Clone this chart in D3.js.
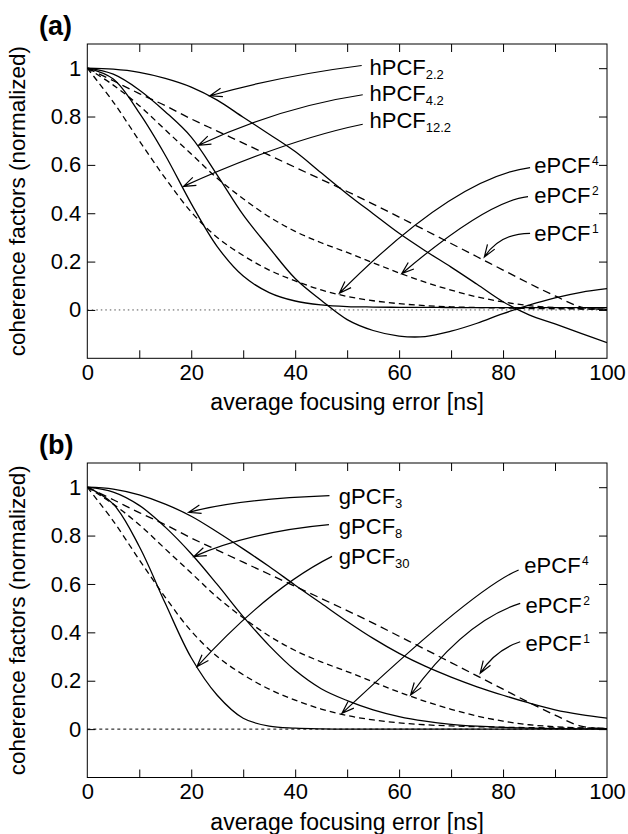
<!DOCTYPE html>
<html lang="en">
<head>
<meta charset="UTF-8">
<title>Coherence factors vs focusing error</title>
<style>
  body { margin: 0; background: #fff; }
  svg { font-family: "Liberation Sans", Arial, Helvetica, sans-serif; }
  .axis .domain { display: none; }
  .axis line { stroke: #000; }
  .axis text { font-size: 22px; fill: #000; }
</style>
</head>
<body>
<svg width="628" height="834"></svg>
<script src="https://d3js.org/d3.v7.min.js"></script>
<script>
// average focusing error [ns]
var ns = [0, 5, 10, 15, 20, 25, 30, 35, 40, 45, 50, 55, 60, 65, 70, 75, 80, 85, 90, 95, 100];

// panel (a) solid curves
var hPCF22  = [1, 0.996, 0.983, 0.958, 0.922, 0.868, 0.797, 0.727, 0.655, 0.567, 0.48, 0.398, 0.317, 0.245, 0.177, 0.106, 0.034, -0.02, -0.058, -0.097, -0.135];
var hPCF42  = [1, 0.975, 0.91, 0.82, 0.715, 0.558, 0.393, 0.258, 0.13, 0.04, -0.04, -0.085, -0.108, -0.11, -0.088, -0.055, -0.015, 0.02, 0.05, 0.073, 0.088];
var hPCF122 = [1, 0.955, 0.815, 0.64, 0.44, 0.262, 0.14, 0.072, 0.037, 0.021, 0.014, 0.012, 0.011, 0.011, 0.01, 0.01, 0.01, 0.01, 0.01, 0.01, 0.01];

// panel (b) solid curves
var gPCF3  = [1, 0.992, 0.968, 0.93, 0.88, 0.815, 0.745, 0.672, 0.595, 0.52, 0.445, 0.375, 0.313, 0.26, 0.215, 0.175, 0.14, 0.108, 0.08, 0.06, 0.045];
var gPCF8  = [1, 0.98, 0.925, 0.835, 0.725, 0.598, 0.465, 0.345, 0.243, 0.167, 0.118, 0.08, 0.052, 0.033, 0.02, 0.012, 0.007, 0.004, 0.002, 0.001, 0];
var gPCF30 = [1, 0.93, 0.755, 0.52, 0.295, 0.14, 0.045, 0.012, 0.004, 0.001, 0, 0, 0, 0, 0, 0, 0, 0, 0, 0, 0];

// dashed curves, same in both panels
var ePCF1 = [1, 0.948, 0.895, 0.845, 0.79, 0.74, 0.69, 0.64, 0.59, 0.54, 0.49, 0.438, 0.384, 0.33, 0.275, 0.22, 0.165, 0.11, 0.058, 0.012, 0.002];
var ePCF2 = [1, 0.93, 0.845, 0.745, 0.645, 0.545, 0.46, 0.385, 0.325, 0.278, 0.238, 0.195, 0.153, 0.115, 0.082, 0.054, 0.033, 0.018, 0.01, 0.005, 0.003];
var ePCF4 = [1, 0.86, 0.70, 0.545, 0.405, 0.30, 0.225, 0.165, 0.12, 0.083, 0.056, 0.038, 0.026, 0.018, 0.013, 0.01, 0.008, 0.006, 0.005, 0.004, 0.003];

var xLabels = [0, 20, 40, 60, 80, 100];
var yLabels = [0, 0.2, 0.4, 0.6, 0.8, 1];

// labels and arrows, in data units: text spot, leader start, bend, arrow tip
var notesA = [
  {name: "hPCF", sub: "2.2",  at: [54.3, 0.972], from: [52.8, 1.011], bend: [37.1, 0.968], tip: [23.6, 0.886]},
  {name: "hPCF", sub: "4.2",  at: [54.3, 0.865], from: [53.0, 0.89],  bend: [37.1, 0.839], tip: [21.4, 0.681]},
  {name: "hPCF", sub: "12.2", at: [54.3, 0.754], from: [53.0, 0.768], bend: [38.0, 0.701], tip: [18.5, 0.511]},
  {name: "ePCF", sup: "4", at: [86.0, 0.568], from: [85.2, 0.589], bend: [70.6, 0.547], tip: [48.5, 0.069]},
  {name: "ePCF", sup: "2", at: [86.0, 0.443], from: [84.8, 0.469], bend: [77.0, 0.451], tip: [60.5, 0.15]},
  {name: "ePCF", sup: "1", at: [86.0, 0.287], from: [85.2, 0.317], bend: [79.4, 0.317], tip: [76.4, 0.219]}
];
var notesB = [
  {name: "gPCF", sub: "3",  at: [48.4, 0.930], from: [46.6, 0.965], bend: [29.1, 0.951], tip: [19.5, 0.896]},
  {name: "gPCF", sub: "8",  at: [48.4, 0.807], from: [46.5, 0.845], bend: [31.5, 0.816], tip: [20.5, 0.713]},
  {name: "gPCF", sub: "30", at: [48.4, 0.683], from: [47.1, 0.714], bend: [34.8, 0.581], tip: [21.1, 0.258]},
  {name: "ePCF", sup: "4", at: [84.1, 0.645], from: [83.0, 0.658], bend: [74.7, 0.584], tip: [49.0, 0.065]},
  {name: "ePCF", sup: "2", at: [84.3, 0.482], from: [83.3, 0.52],  bend: [72.5, 0.446], tip: [62.2, 0.141]},
  {name: "ePCF", sup: "1", at: [84.3, 0.324], from: [83.3, 0.361], bend: [78.5, 0.327], tip: [75.6, 0.231]}
];

var panels = [
  {tag: "(a)", top: 44, bottom: 358.3, solid: [hPCF22, hPCF42, hPCF122], notes: notesA, zeroDash: "1.5,3", zeroColor: "#555"},
  {tag: "(b)", top: 463, bottom: 777.5, solid: [gPCF3, gPCF8, gPCF30], notes: notesB, zeroDash: "3,3", zeroColor: "#000"}
];

var svg = d3.select("svg"),
    left = 87.3, right = 607;

var x = d3.scaleLinear().domain([0, 100]).range([left, right]);

panels.forEach(function(p, pi) {
    var y = d3.scaleLinear().domain([-0.2, 1.1]).range([p.bottom, p.top]);
    var g = svg.append("g");

    g.append("clipPath").attr("id", "clip" + pi)
      .append("rect")
        .attr("x", left).attr("y", p.top)
        .attr("width", right - left).attr("height", p.bottom - p.top);

    var line = d3.line()
        .x(function(d, i) { return x(ns[i]); })
        .y(function(d) { return y(d); })
        .curve(d3.curveCatmullRom);

    var plot = g.append("g").attr("clip-path", "url(#clip" + pi + ")");

    // zero reference line
    plot.append("line")
        .attr("x1", x(0)).attr("x2", x(100))
        .attr("y1", y(0)).attr("y2", y(0))
        .attr("stroke", p.zeroColor)
        .attr("stroke-width", 1)
        .attr("stroke-dasharray", p.zeroDash);

    [ePCF1, ePCF2, ePCF4].forEach(function(s, i) {
        plot.append("path")
            .attr("d", line(s))
            .attr("fill", "none")
            .attr("stroke", "#000")
            .attr("stroke-width", 1.3)
            .attr("stroke-dasharray", i == 0 ? "8,5" : "6,4");
    });

    p.solid.forEach(function(s) {
        plot.append("path")
            .attr("d", line(s))
            .attr("fill", "none")
            .attr("stroke", "#000")
            .attr("stroke-width", 1.3);
    });

    // box and inward ticks
    g.append("rect")
        .attr("x", left).attr("y", p.top)
        .attr("width", right - left).attr("height", p.bottom - p.top)
        .attr("fill", "none").attr("stroke", "#000").attr("stroke-width", 1);

    var xt = [10, 20, 30, 40, 50, 60, 70, 80, 90];
    g.append("g").attr("class", "axis")
        .attr("transform", "translate(0," + p.bottom + ")")
        .call(d3.axisBottom(x).tickValues(xt).tickSize(-8).tickFormat(""));
    g.append("g").attr("class", "axis")
        .attr("transform", "translate(0," + p.top + ")")
        .call(d3.axisTop(x).tickValues(xt).tickSize(-8).tickFormat(""));
    g.append("g").attr("class", "axis")
        .attr("transform", "translate(0," + p.bottom + ")")
        .call(d3.axisBottom(x).tickValues(xLabels).tickSize(0).tickPadding(6).tickFormat(d3.format("d")));

    g.append("g").attr("class", "axis")
        .attr("transform", "translate(" + left + ",0)")
        .call(d3.axisLeft(y).tickValues(yLabels).tickSize(-8).tickPadding(6)
            .tickFormat(function(d) { return String(Math.round(d * 10) / 10); }));
    g.append("g").attr("class", "axis")
        .attr("transform", "translate(" + right + ",0)")
        .call(d3.axisRight(y).tickValues(yLabels).tickSize(-8).tickFormat(""));

    // axis titles
    g.append("text")
        .attr("x", (left + right) / 2)
        .attr("y", p.bottom + 52)
        .attr("text-anchor", "middle")
        .attr("font-size", 23)
        .text("average focusing error [ns]");
    g.append("text")
        .attr("transform", "translate(25," + (p.top + p.bottom) / 2 + ") rotate(-90)")
        .attr("text-anchor", "middle")
        .attr("font-size", 22.5)
        .text("coherence factors (normalized)");

    g.append("text")
        .attr("x", 39)
        .attr("y", p.top - 9)
        .attr("font-size", 27)
        .attr("font-weight", "bold")
        .text(p.tag);

    // leaders with open arrowheads
    p.notes.forEach(function(n) {
        var p0 = [x(n.from[0]), y(n.from[1])],
            c = [x(n.bend[0]), y(n.bend[1])],
            t = [x(n.tip[0]), y(n.tip[1])];
        var path = d3.path();
        path.moveTo(p0[0], p0[1]);
        path.quadraticCurveTo(c[0], c[1], t[0], t[1]);

        var a = Math.atan2(t[1] - c[1], t[0] - c[0]),
            len = 13, spread = 0.34;
        path.moveTo(t[0] - len * Math.cos(a - spread), t[1] - len * Math.sin(a - spread));
        path.lineTo(t[0], t[1]);
        path.lineTo(t[0] - len * Math.cos(a + spread), t[1] - len * Math.sin(a + spread));

        g.append("path")
            .attr("d", path.toString())
            .attr("fill", "none")
            .attr("stroke", "#000")
            .attr("stroke-width", 1.2);

        var label = g.append("text")
            .attr("x", x(n.at[0]))
            .attr("y", y(n.at[1]))
            .attr("font-size", 22)
            .text(n.name);
        if (n.sub) {
            label.append("tspan").attr("font-size", 13).attr("dy", 4).text(n.sub);
        } else {
            label.append("tspan").attr("font-size", 12).attr("dx", 1.5).attr("dy", -8).text(n.sup);
        }
    });
});
</script>
</body>
</html>
